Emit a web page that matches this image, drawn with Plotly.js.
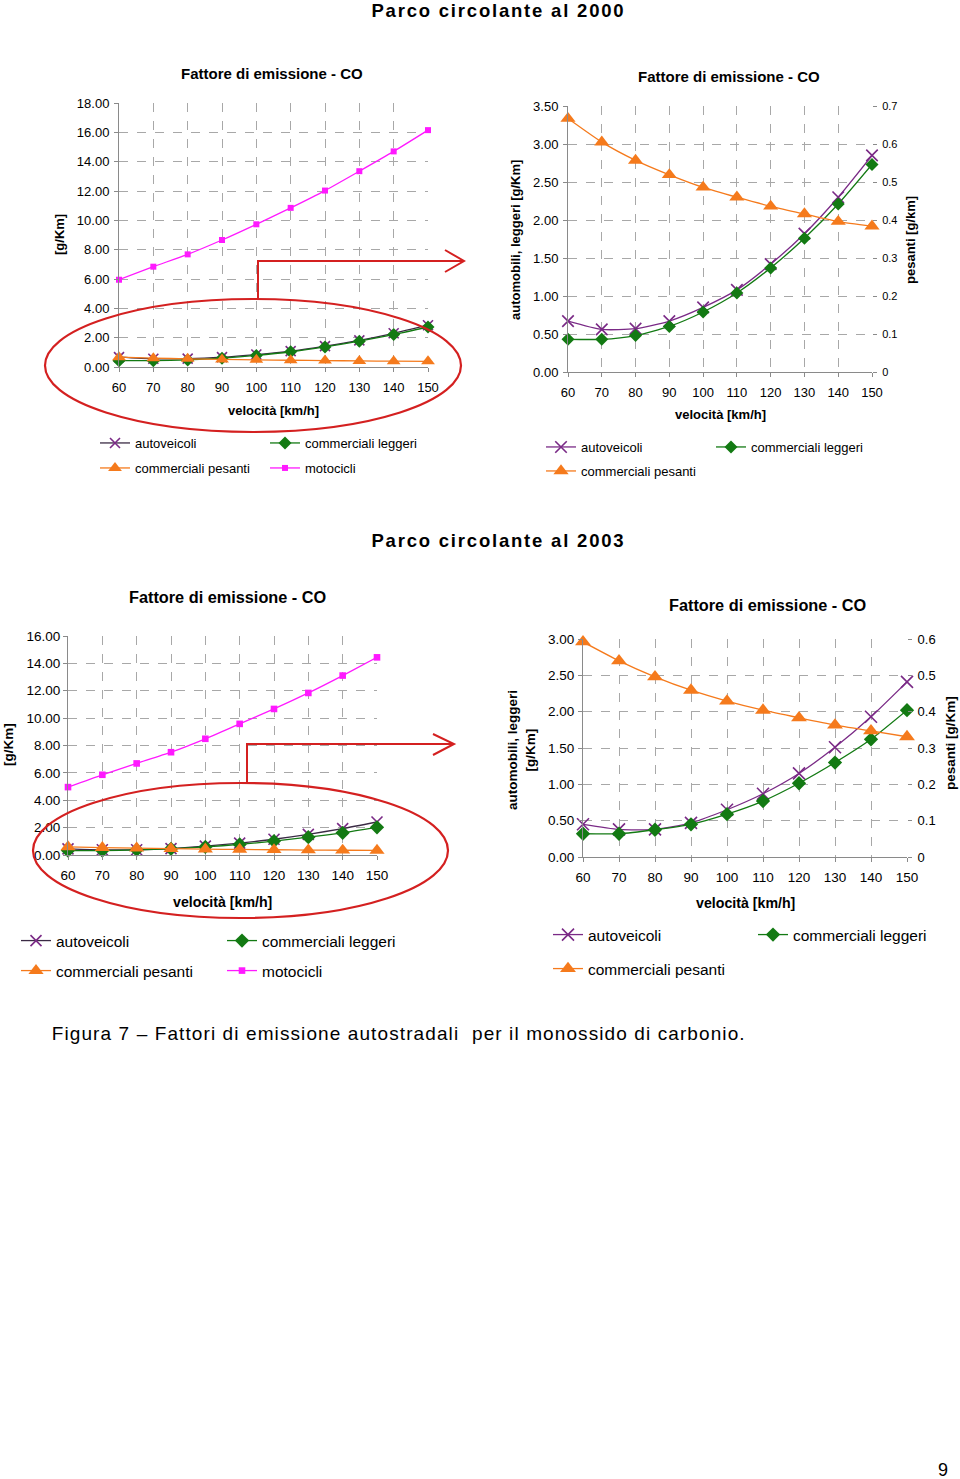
<!DOCTYPE html>
<html><head><meta charset="utf-8">
<script src="https://cdn.plot.ly/plotly-3.0.1.min.js"></script>
<style>
html,body{margin:0;padding:0;background:#fff}#chart{width:960px;height:1479px}
#chart .annotation[data-index="0"] text, #chart .annotation[data-index="1"] text {letter-spacing: 1.8px;}
#chart .annotation[data-index="16"] text {letter-spacing: 1.1px;}
</style>
</head><body><div id="chart"></div>
<script>
// ---- data ----
const speeds = [60, 70, 80, 90, 100, 110, 120, 130, 140, 150];
const seriesNames = ['autoveicoli', 'commerciali leggeri', 'commerciali pesanti', 'motocicli'];
// Parco circolante al 2000
const auto2000    = [0.67, 0.56, 0.57, 0.67, 0.85, 1.08, 1.42, 1.82, 2.30, 2.85];
const leggeri2000 = [0.43, 0.43, 0.48, 0.60, 0.79, 1.04, 1.37, 1.76, 2.21, 2.73];
const pesanti2000 = [0.667, 0.605, 0.557, 0.519, 0.486, 0.460, 0.436, 0.416, 0.396, 0.384];
const moto2000    = [5.95, 6.84, 7.68, 8.66, 9.73, 10.85, 12.03, 13.35, 14.70, 16.15];
// Parco circolante al 2003
const auto2003    = [0.45, 0.38, 0.38, 0.47, 0.65, 0.87, 1.15, 1.51, 1.93, 2.41];
const leggeri2003 = [0.32, 0.32, 0.375, 0.45, 0.59, 0.77, 1.015, 1.30, 1.62, 2.02];
const pesanti2003 = [0.592, 0.540, 0.496, 0.459, 0.429, 0.404, 0.383, 0.363, 0.347, 0.331];
const moto2003    = [4.96, 5.86, 6.69, 7.51, 8.49, 9.58, 10.67, 11.84, 13.11, 14.44];

// ---- helpers (page pixel -> paper) ----
const W = 960, H = 1479;
const X = p => p / W;
const Y = p => 1 - p / H;
const FONT = 'Liberation Sans, Arial, sans-serif';

const PURPLE = '#7a2a86', GREEN = '#137a13', ORANGE = '#f57a1c', MAGENTA = '#ff19ff';
const styles = [
  {color: PURPLE, symbol: 'x-thin-open', size: 10, lw: 1.6},
  {color: GREEN, symbol: 'diamond', size: 10, lw: 0},
  {color: ORANGE, symbol: 'triangle-up', size: 12, lw: 0},
  {color: MAGENTA, symbol: 'square', size: 6, lw: 0}
];
function tr(i, ys, xa, ya, legend, sizeScale, lineColor) {
  const s = styles[i];
  return {
    x: speeds, y: ys, xaxis: xa, yaxis: ya, name: seriesNames[i], legend: legend,
    type: 'scatter', mode: 'lines+markers',
    line: {color: lineColor || s.color, width: 1.3, shape: 'spline', smoothing: 0.6},
    marker: {symbol: s.symbol, size: s.size * (sizeScale || 1), color: s.color,
             line: {color: s.color, width: s.lw}},
    cliponaxis: false, hoverinfo: 'x+y'
  };
}

const data = [
  // chart 1
  tr(0, auto2000, 'x', 'y', 'legend', 1, '#3a2a44'),
  tr(1, leggeri2000, 'x', 'y', 'legend'),
  tr(2, pesanti2000, 'x', 'y', 'legend2'),
  tr(3, moto2000, 'x', 'y', 'legend2'),
  // chart 2
  tr(0, auto2000, 'x2', 'y2', 'legend3', 1.15),
  tr(1, leggeri2000, 'x2', 'y2', 'legend3'),
  tr(2, pesanti2000, 'x2', 'y3', 'legend4', 1.1),
  // chart 3
  tr(0, auto2003, 'x3', 'y4', 'legend5', 1.1, '#3a2a44'),
  tr(1, leggeri2003, 'x3', 'y4', 'legend5', 1.1),
  tr(2, pesanti2003, 'x3', 'y4', 'legend6', 1.1),
  tr(3, moto2003, 'x3', 'y4', 'legend6', 1.1),
  // chart 4
  tr(0, auto2003, 'x4', 'y5', 'legend7', 1.2),
  tr(1, leggeri2003, 'x4', 'y5', 'legend7', 1.1),
  tr(2, pesanti2003, 'x4', 'y6', 'legend8', 1.15)
];

const GRID = '#a8a8a8', AXL = '#8a8a8a';
function xax(d, anchor, fs) {
  return {domain: [X(d[0]), X(d[1])], anchor: anchor, range: [60, 150], tickvals: speeds,
    showgrid: true, gridcolor: GRID, griddash: 'dash', gridwidth: 1,
    showline: true, linecolor: AXL, linewidth: 1, ticks: 'outside', ticklen: 4, tickcolor: AXL,
    ticklabelstandoff: 4, zeroline: false, fixedrange: true,
    tickfont: {family: FONT, size: fs, color: '#000'}};
}
function yax(d, anchor, range, dtick, fmt, fs, side, overlay, standoff) {
  const o = {range: range, dtick: dtick, tick0: 0, tickformat: fmt, anchor: anchor,
    showgrid: !overlay, gridcolor: GRID, griddash: 'dash', gridwidth: 1,
    showline: !overlay, linecolor: AXL, linewidth: 1, ticks: 'outside', ticklen: 4, tickcolor: AXL,
    ticklabelstandoff: standoff == null ? 2 : standoff, zeroline: false, fixedrange: true,
    tickfont: {family: FONT, size: fs, color: '#000'}};
  if (overlay) { o.overlaying = overlay; o.side = side; } else { o.domain = [Y(d[1]), Y(d[0])]; }
  return o;
}
function leg(x, y, ew, fs) {
  return {x: X(x - 40), xanchor: 'left', y: Y(y), yanchor: 'middle', orientation: 'h',
    entrywidth: ew, entrywidthmode: 'pixels', bgcolor: 'rgba(0,0,0,0)', borderwidth: 0,
    font: {family: FONT, size: fs, color: '#000'}, traceorder: 'normal'};
}
function ann(text, x, y, size, bold, angle, anchor) {
  return {text: bold ? '<b>' + text + '</b>' : text, x: X(x), y: Y(y), xref: 'paper', yref: 'paper',
    showarrow: false, xanchor: anchor || 'center', yanchor: 'middle', textangle: angle || 0,
    font: {family: FONT, size: size, color: '#000'}};
}

const RED = '#d42020';
function path(d, w) {
  return {type: 'path', xref: 'paper', yref: 'paper', path: d, line: {color: RED, width: w || 2}};
}
function P(pts) { return pts.map((p, i) => (i ? 'L' : 'M') + X(p[0]) + ',' + Y(p[1])).join(' '); }

const layout = {
  width: W, height: H, margin: {l: 0, r: 0, t: 0, b: 0},
  paper_bgcolor: '#fff', plot_bgcolor: 'rgba(0,0,0,0)',
  font: {family: FONT, color: '#000'},
  showlegend: true,
  xaxis: xax([119, 428], 'y', 13),
  yaxis: yax([103, 367], 'x', [0, 18], 2, '.2f', 13),
  xaxis2: xax([568, 872], 'y2', 13),
  yaxis2: yax([106, 372], 'x2', [0, 3.5], 0.5, '.2f', 13),
  yaxis3: yax(null, 'x2', [0, 0.7], 0.1, '', 11, 'right', 'y2', 3),
  xaxis3: xax([68, 377], 'y4', 13.5),
  yaxis4: yax([636, 855], 'x3', [0, 16], 2, '.2f', 13.5, null, null, 0),
  xaxis4: xax([583, 907], 'y5', 13.5),
  yaxis5: yax([639, 857], 'x4', [0, 3], 0.5, '.2f', 13.5, null, null, 1),
  yaxis6: yax(null, 'x4', [0, 0.6], 0.1, '', 13, 'right', 'y5', 3),
  legend: leg(135, 443, 125, 13),
  legend2: leg(135, 468, 125, 13),
  legend3: leg(581, 447, 125, 13),
  legend4: leg(581, 471, 125, 13),
  legend5: leg(56, 941, 161, 15.5),
  legend6: leg(56, 971, 161, 15.5),
  legend7: leg(588, 935, 160, 15.5),
  legend8: leg(588, 969, 160, 15.5),
  annotations: [
    ann('Parco circolante al 2000', 498, 11, 18.5, true),
    ann('Parco circolante al 2003', 498, 540, 18.5, true),
    ann('Fattore di emissione - CO', 272, 74, 15, true),
    ann('Fattore di emissione - CO', 729, 76, 15, true),
    ann('Fattore di emissione - CO', 227, 597, 16.3, true),
    ann('Fattore di emissione - CO', 767, 605, 16.3, true),
    ann('[g/Km]', 60, 235, 13, true, -90),
    ann('velocità [km/h]', 273, 410, 13, true),
    ann('automobili, leggeri [g/Km]', 515, 240, 13, true, -90),
    ann('pesanti [g/km]', 910, 240, 13, true, -90),
    ann('velocità [km/h]', 720, 414, 13, true),
    ann('[g/Km]', 8, 745, 13.5, true, -90),
    ann('velocità [km/h]', 222, 902, 14.2, true),
    ann('automobili, leggeri<br>[g/Km]', 521, 750, 13.5, true, -90),
    ann('pesanti [g/Km]', 950, 743, 13.5, true, -90),
    ann('velocità [km/h]', 745, 903, 14.2, true),
    ann('Figura 7 – Fattori di emissione autostradali  per il monossido di carbonio.', 398, 1033, 19, false),
    ann('9', 943, 1470, 18, false)
  ],
  shapes: [
    {type: 'circle', xref: 'paper', yref: 'paper', x0: X(45), x1: X(461), y0: Y(432), y1: Y(299), line: {color: RED, width: 2.2}},
    path(P([[258, 299], [258, 261], [463, 261]]), 2),
    path(P([[445, 250], [464, 261], [445, 272]]), 2),
    {type: 'circle', xref: 'paper', yref: 'paper', x0: X(33), x1: X(448), y0: Y(918), y1: Y(783), line: {color: RED, width: 2.2}},
    path(P([[247, 783], [247, 744], [453, 744]]), 2),
    path(P([[433, 734], [454, 744], [433, 755]]), 2)
  ]
};

Plotly.newPlot('chart', data, layout, {displayModeBar: false, staticPlot: true});
</script>
</body></html>
